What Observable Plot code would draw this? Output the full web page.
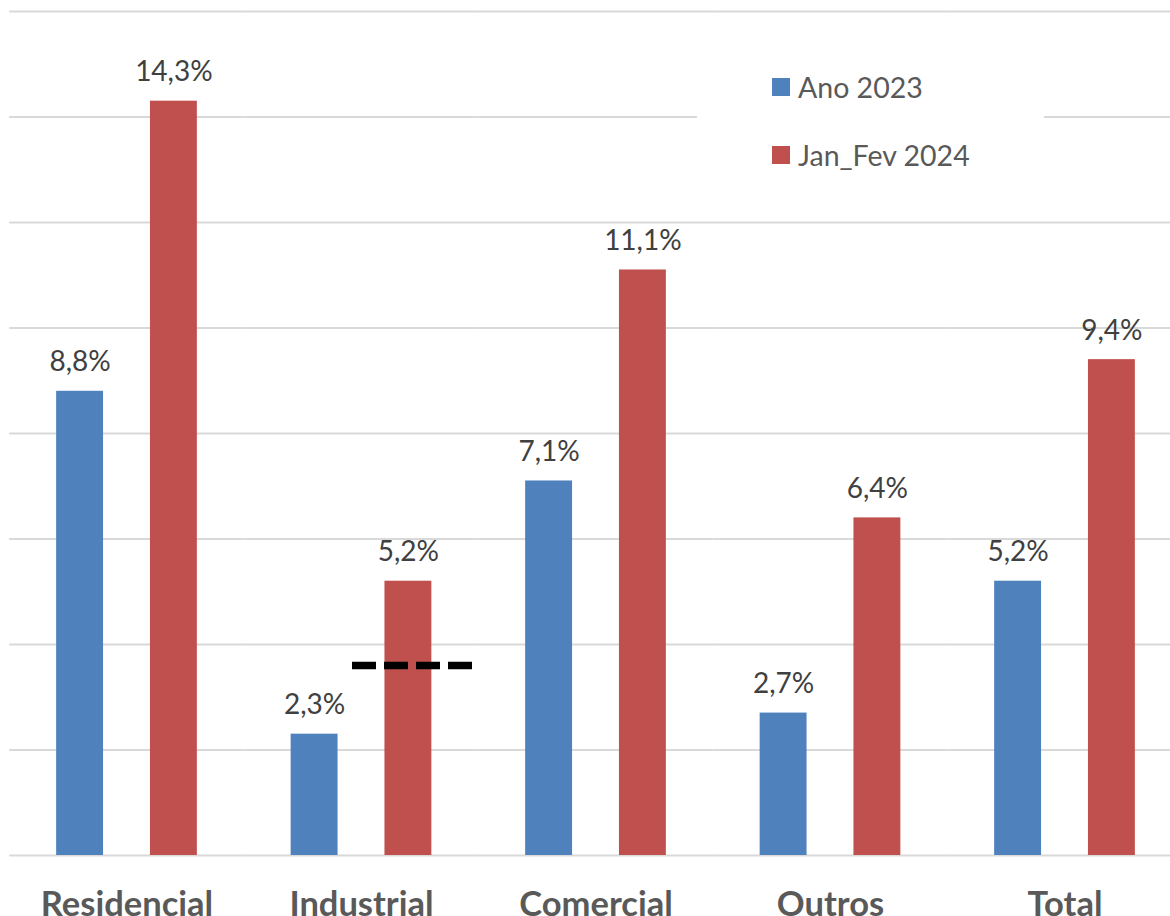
<!DOCTYPE html>
<html>
<head>
<meta charset="utf-8">
<script src="https://cdn.jsdelivr.net/npm/d3@7"></script>
<script src="https://cdn.jsdelivr.net/npm/@observablehq/plot@0.6"></script>
<style>
  html, body { margin: 0; padding: 0; background: #fff; overflow: hidden; }
  #wrap { position: relative; width: 1170px; height: 916px; }
  #legend { position: absolute; left: 697px; top: 50px; width: 347px; height: 140px; background: #fff;
            font-family: Lato, "Open Sans", sans-serif; font-size: 28.5px; color: #595959; }
  .item { position: absolute; left: 75px; display: flex; align-items: center; height: 30px; }
  .sw { width: 18px; height: 18px; margin-right: 8px; }
</style>
</head>
<body>
<div id="wrap">
  <div id="chart"></div>
  <div id="legend"></div>
</div>
<script>
const categories = ["Residencial", "Industrial", "Comercial", "Outros", "Total"];
const series = ["Ano 2023", "Jan_Fev 2024"];
const ano2023 = [8.8, 2.3, 7.1, 2.7, 5.2];
const janFev2024 = [14.3, 5.2, 11.1, 6.4, 9.4];
const colors = ["#4F81BD", "#C0504D"];
const gridTicks = [0, 2, 4, 6, 8, 10, 12, 14, 16];
const markerCategory = "Industrial";
const markerValue = 3.6;

const rows = [];
categories.forEach((c, i) => {
  rows.push({cat: c, serie: series[0], v: ano2023[i]});
  rows.push({cat: c, serie: series[1], v: janFev2024[i]});
});
const fmt = v => v.toFixed(1).replace(".", ",") + "%";

const chart = Plot.plot({
  width: 1170,
  height: 916,
  marginLeft: 9.25,
  marginRight: -11.75,
  marginTop: 11,
  marginBottom: 61,
  style: {fontFamily: "Lato, 'Open Sans', sans-serif", background: "#fff"},
  fx: {domain: categories, padding: 0, round: false, axis: null},
  x: {domain: series, padding: 0.5, round: false, axis: null},
  y: {domain: [0, 16], axis: null},
  color: {domain: series, range: colors},
  marks: [
    Plot.ruleY(gridTicks, {stroke: "#d9d9d9", strokeWidth: 2}),
    Plot.barY(rows, {fx: "cat", x: "serie", y: "v", fill: "serie"}),
    Plot.text(rows, {fx: "cat", x: "serie", y: "v", text: d => fmt(d.v), dy: -29,
      fontSize: 28, fill: "#404040", lineAnchor: "middle"}),
    Plot.text(categories, {fx: d => d, y: () => 0, text: d => d, dy: 49, fontSize: 34.5,
      fontWeight: "bold", fill: "#595959", lineAnchor: "middle", frameAnchor: "middle"}),
    Plot.ruleY([{cat: markerCategory, v: markerValue}], {fx: "cat", y: "v", stroke: "#000",
      strokeWidth: 7.5, strokeDasharray: "24 8", insetLeft: 108.25, insetRight: 6.25})
  ]
});
document.getElementById("chart").appendChild(chart);

const legend = document.getElementById("legend");
series.forEach((s, i) => {
  const it = document.createElement("div");
  it.className = "item";
  it.style.top = (22 + i * 68) + "px";
  it.innerHTML = `<div class="sw" style="background:${colors[i]}"></div><span>${s}</span>`;
  legend.appendChild(it);
});
</script>
</body>
</html>
